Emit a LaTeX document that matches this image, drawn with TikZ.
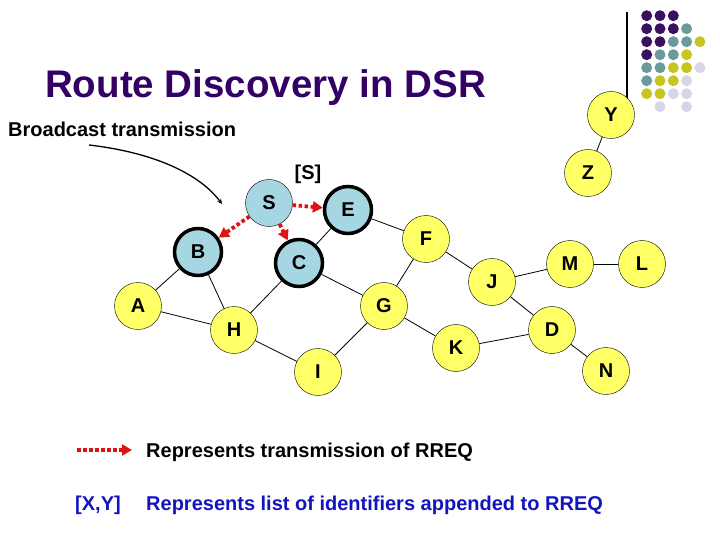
\documentclass[tikz,border=0pt]{standalone}
\usepackage{fontspec}
\setmainfont{Liberation Sans}
\usetikzlibrary{arrows.meta}

\definecolor{titlepurple}{RGB}{51,0,102}
\definecolor{hostyellow}{RGB}{255,255,102}
\definecolor{hostblue}{RGB}{166,214,226}
\definecolor{rreqred}{RGB}{220,20,20}
\definecolor{listblue}{RGB}{20,20,190}
\definecolor{dotpurple}{RGB}{58,16,96}
\definecolor{dotteal}{RGB}{108,154,156}
\definecolor{dotolive}{RGB}{200,196,32}
\definecolor{dotlilac}{RGB}{214,214,232}

\tikzset{
        host/.style={draw, circle, thin, fill=hostyellow, minimum size=47pt,
        inner sep=0pt, font=\fontsize{20}{24}\selectfont\bfseries},
        srchost/.style={host, fill=hostblue},
        gothost/.style={srchost, line width=3.5pt},
        link/.style={line width=0.8pt},
        rreq/.style={draw=rreqred, line width=3.8pt,
        dash pattern=on 3.5pt off 2.5pt, -{Triangle[length=10pt,width=11pt]}},
        txt/.style={inner sep=0pt, font=\fontsize{20}{24}\selectfont\bfseries}
}

\begin{document}
\begin{tikzpicture}[x=1pt, y=-1pt]
        \useasboundingbox (0,0) rectangle (720,540);

        \draw[line width=1.2pt] (627,12) -- (627,100);
        \foreach \c/\r/\clr in {0/0/dotpurple, 1/0/dotpurple, 2/0/dotpurple,
          0/1/dotpurple, 1/1/dotpurple, 2/1/dotpurple, 3/1/dotteal,
          0/2/dotpurple, 1/2/dotpurple, 2/2/dotteal, 3/2/dotteal, 4/2/dotolive,
          0/3/dotpurple, 1/3/dotteal, 2/3/dotteal, 3/3/dotolive,
          0/4/dotteal, 1/4/dotteal, 2/4/dotolive, 3/4/dotolive, 4/4/dotlilac,
          0/5/dotteal, 1/5/dotolive, 2/5/dotolive, 3/5/dotlilac,
          0/6/dotolive, 1/6/dotolive, 2/6/dotlilac, 3/6/dotlilac,
          1/7/dotlilac, 3/7/dotlilac}
          \fill[\clr] (646.7+13.3*\c, 15.7+13*\r) circle (5.5pt);

        \node[txt, text=titlepurple, font=\fontsize{38.5}{44}\selectfont\bfseries,
        anchor=base west] (title) at (45,98) {Route Discovery in DSR};

        \node[txt, anchor=base west] (bcast) at (8,137) {Broadcast transmission};

        \node[txt, anchor=base] (srclist) at (308,180) {[S]};

        \node[srchost] (S) at (269,203) {S};
        \node[gothost] (E) at (348,210) {E};
        \node[gothost] (B) at (198,252) {B};
        \node[gothost] (C) at (299,263) {C};
        \node[host] (A) at (138,306) {A};
        \node[host] (H) at (234,330) {H};
        \node[host] (I) at (318,372) {I};
        \node[host] (G) at (384,306) {G};
        \node[host] (F) at (426,239) {F};
        \node[host] (K) at (456,348) {K};
        \node[host] (J) at (492,282) {J};
        \node[host] (M) at (570,264) {M};
        \node[host] (L) at (642,264) {L};
        \node[host] (D) at (552,330) {D};
        \node[host] (N) at (606,371) {N};
        \node[host] (Z) at (588,173) {Z};
        \node[host] (Y) at (611,115) {Y};

        \draw[link] (E) -- (C);
        \draw[link] (E) -- (F);
        \draw[link] (B) -- (A);
        \draw[link] (B) -- (H);
        \draw[link] (C) -- (H);
        \draw[link] (C) -- (G);
        \draw[link] (A) -- (H);
        \draw[link] (H) -- (I);
        \draw[link] (I) -- (G);
        \draw[link] (G) -- (F);
        \draw[link] (G) -- (K);
        \draw[link] (F) -- (J);
        \draw[link] (J) -- (M);
        \draw[link] (J) -- (D);
        \draw[link] (M) -- (L);
        \draw[link] (K) -- (D);
        \draw[link] (D) -- (N);
        \draw[link] (Y) -- (Z);

        \draw[rreq] (S) -- (E);
        \draw[rreq] (S) -- (B);
        \draw[rreq] (S) -- (C);

        \coordinate (bstart) at (89,145);
        \coordinate (bend) at (222,204);
        \draw[-stealth, line width=1.3pt] (bstart) .. controls (150,152) and
        (198,172) .. (bend);

        \coordinate (keyfrom) at (77,450);
        \coordinate (keyto) at (132,450);
        \draw[rreq] (keyfrom) -- (keyto);
        \node[txt, anchor=base west] (keyrreq) at (146,457)
        {Represents transmission of RREQ};

        \node[txt, text=listblue, anchor=base west] (keyxy) at (75,510) {[X,Y]};
        \node[txt, text=listblue, anchor=base west] (keylist) at (146,510)
        {Represents list of identifiers appended to RREQ};
\end{tikzpicture}
\end{document}
